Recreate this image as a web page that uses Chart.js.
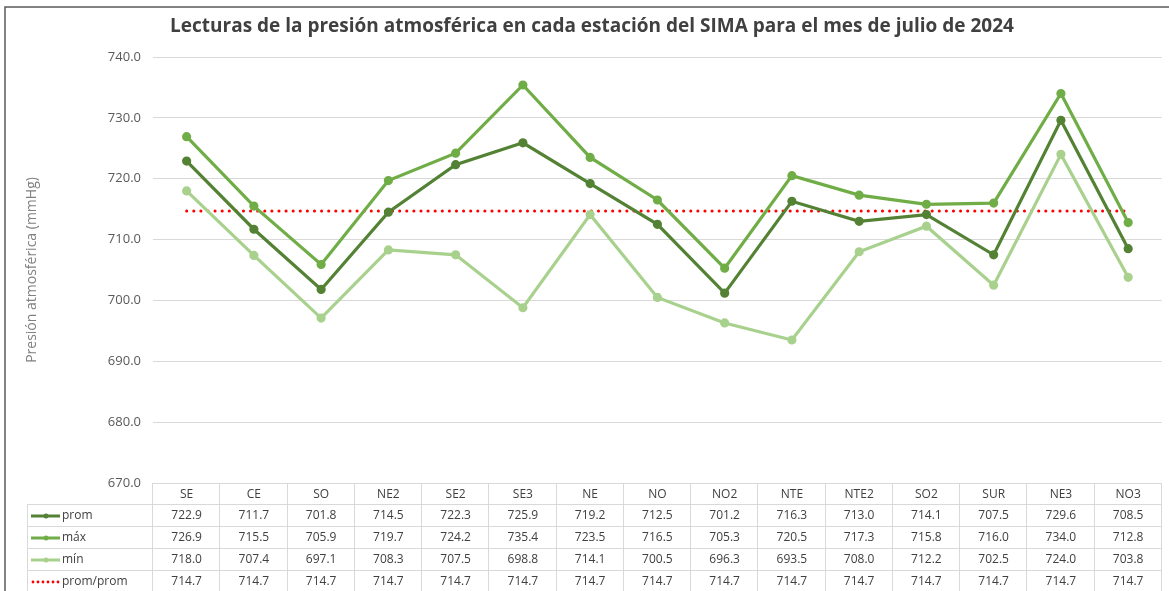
<!DOCTYPE html>
<html>
<head>
<meta charset="utf-8">
<script src="https://cdn.jsdelivr.net/npm/chart.js@4.4.1/dist/chart.umd.min.js"></script>
<style>
  html, body { margin: 0; padding: 0; background: #fff; }
  #wrap { width: 1169px; height: 591px; position: relative; }
</style>
</head>
<body>
<div id="wrap"><canvas id="presionChart"></canvas></div>
<script>
const estaciones = ['SE', 'CE', 'SO', 'NE2', 'SE2', 'SE3', 'NE', 'NO', 'NO2', 'NTE', 'NTE2', 'SO2', 'SUR', 'NE3', 'NO3'];
const prom = [722.9, 711.7, 701.8, 714.5, 722.3, 725.9, 719.2, 712.5, 701.2, 716.3, 713.0, 714.1, 707.5, 729.6, 708.5];
const maxima = [726.9, 715.5, 705.9, 719.7, 724.2, 735.4, 723.5, 716.5, 705.3, 720.5, 717.3, 715.8, 716.0, 734.0, 712.8];
const minima = [718.0, 707.4, 697.1, 708.3, 707.5, 698.8, 714.1, 700.5, 696.3, 693.5, 708.0, 712.2, 702.5, 724.0, 703.8];
const promProm = [714.7, 714.7, 714.7, 714.7, 714.7, 714.7, 714.7, 714.7, 714.7, 714.7, 714.7, 714.7, 714.7, 714.7, 714.7];

const titulo = 'Lecturas de la presión atmosférica en cada estación del SIMA para el mes de julio de 2024';
const FONT = '"Open Sans", "DejaVu Sans", sans-serif';

// marco, titulo y tabla de datos
const tablaPlugin = {
    id: 'tablaDatos',
    beforeDraw(chart) {
        const ctx = chart.ctx;
        ctx.save();
        ctx.fillStyle = '#fff';
        ctx.fillRect(0, 0, chart.width, chart.height);
        ctx.strokeStyle = '#595959';
        ctx.lineWidth = 1.5;
        ctx.beginPath();
        ctx.moveTo(5, chart.height);
        ctx.lineTo(5, 7);
        ctx.lineTo(chart.width, 7);
        ctx.stroke();
        ctx.fillStyle = '#404040';
        ctx.font = 'bold 19px ' + FONT;
        ctx.textAlign = 'center';
        ctx.textBaseline = 'middle';
        ctx.fillText(titulo, 592, 27);
        ctx.restore();
    },
    afterDraw(chart) {
        const ctx = chart.ctx;
        const area = chart.chartArea;
        const n = chart.data.labels.length;
        const colW = (area.right - area.left) / n;
        const top = area.bottom;
        const headH = 21, rowH = 22, leftX = 27;
        const sets = chart.data.datasets;
        const bottom = top + headH + rowH * sets.length;

        ctx.save();
        ctx.strokeStyle = '#d9d9d9';
        ctx.lineWidth = 1;
        // lineas horizontales
        ctx.beginPath();
        ctx.moveTo(area.left, top + 0.5);
        ctx.lineTo(area.right, top + 0.5);
        for (let r = 0; r <= sets.length; r++) {
            const y = Math.round(top + headH + r * rowH) + 0.5;
            ctx.moveTo(leftX, y);
            ctx.lineTo(area.right, y);
        }
        // lineas verticales
        for (let c = 0; c <= n; c++) {
            const x = Math.round(area.left + c * colW) - 0.5;
            ctx.moveTo(x, top);
            ctx.lineTo(x, bottom);
        }
        ctx.moveTo(leftX + 0.5, top + headH);
        ctx.lineTo(leftX + 0.5, bottom);
        ctx.stroke();

        ctx.fillStyle = '#404040';
        ctx.font = '12px ' + FONT;
        ctx.textAlign = 'center';
        ctx.textBaseline = 'middle';
        chart.data.labels.forEach((lab, i) => {
            const cx = chart.scales.x.getPixelForValue(i);
            ctx.fillText(lab, cx, top + headH / 2 + 1);
        });
        sets.forEach((ds, r) => {
            const cy = top + headH + r * rowH + rowH / 2 + 1;
            ds.data.forEach((v, i) => {
                const cx = chart.scales.x.getPixelForValue(i);
                ctx.fillText(v.toFixed(1), cx, cy);
            });
            // clave de la leyenda
            if (ds.borderDash && ds.borderDash.length) {
                ctx.fillStyle = ds.borderColor;
                for (let k = 0; k < 6; k++) {
                    ctx.beginPath();
                    ctx.arc(33 + k * 5, cy, 1.4, 0, Math.PI * 2);
                    ctx.fill();
                }
            } else {
                ctx.strokeStyle = ds.borderColor;
                ctx.lineWidth = 3;
                ctx.beginPath();
                ctx.moveTo(31, cy);
                ctx.lineTo(60, cy);
                ctx.stroke();
                ctx.fillStyle = ds.borderColor;
                ctx.beginPath();
                ctx.arc(46, cy, 2.5, 0, Math.PI * 2);
                ctx.fill();
            }
            ctx.fillStyle = '#404040';
            ctx.textAlign = 'left';
            ctx.fillText(ds.label, 62, cy);
            ctx.textAlign = 'center';
        });
        ctx.restore();
    }
};

new Chart(document.getElementById('presionChart'), {
    type: 'line',
    data: {
        labels: estaciones,
        datasets: [
            {
                label: 'prom',
                data: prom,
                borderColor: '#548235',
                backgroundColor: '#548235',
                borderWidth: 3.2,
                pointRadius: 3,
                tension: 0
            },
            {
                label: 'máx',
                data: maxima,
                borderColor: '#70ad47',
                backgroundColor: '#70ad47',
                borderWidth: 3.2,
                pointRadius: 3,
                tension: 0
            },
            {
                label: 'mín',
                data: minima,
                borderColor: '#a9d18e',
                backgroundColor: '#a9d18e',
                borderWidth: 3.2,
                pointRadius: 3,
                tension: 0
            },
            {
                label: 'prom/prom',
                data: promProm,
                borderColor: '#ff0000',
                backgroundColor: '#ff0000',
                borderWidth: 3,
                borderDash: [0.1, 7],
                borderCapStyle: 'round',
                pointRadius: 0,
                tension: 0
            }
        ]
    },
    options: {
        responsive: true,
        maintainAspectRatio: false,
        animation: false,
        layout: {
            padding: { left: 20, top: 57, right: 1, bottom: 108 }
        },
        plugins: {
            legend: { display: false },
            title: { display: false },
            tooltip: { enabled: false }
        },
        scales: {
            x: {
                display: false,
                offset: true
            },
            y: {
                min: 670,
                max: 740,
                afterFit: scale => { scale.width = 133; },
                border: { display: false },
                grid: { color: '#d9d9d9', drawTicks: false },
                ticks: {
                    stepSize: 10,
                    padding: 12,
                    color: '#595959',
                    font: { family: FONT, size: 13 },
                    callback: value => Number(value).toFixed(1)
                },
                title: {
                    display: true,
                    text: 'Presión atmosférica (mmHg)',
                    color: '#808080',
                    font: { family: FONT, size: 14 }
                }
            }
        }
    },
    plugins: [tablaPlugin]
});
</script>
</body>
</html>
